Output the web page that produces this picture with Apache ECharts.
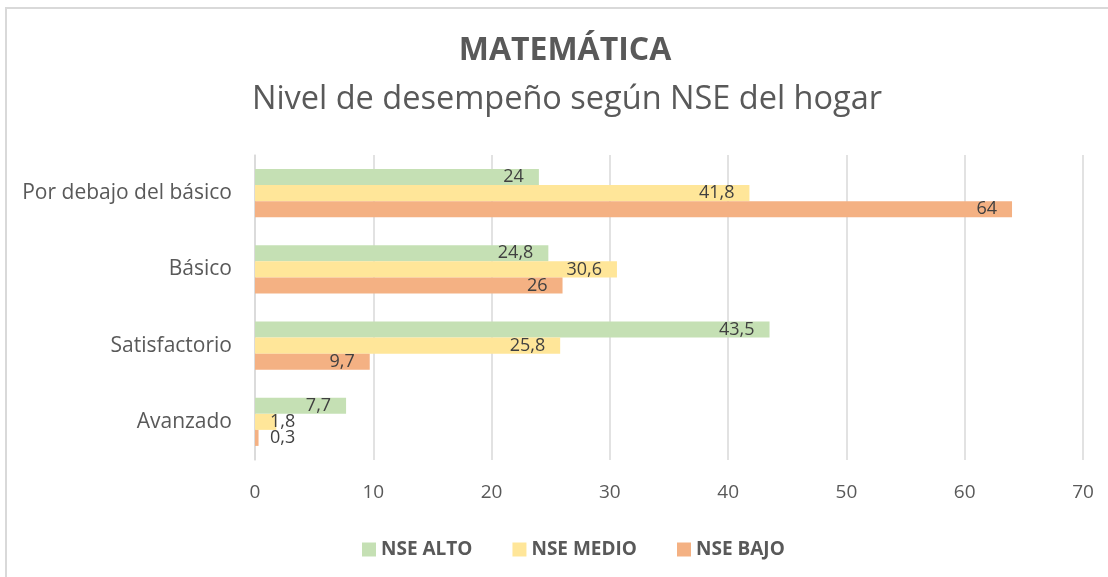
<!DOCTYPE html>
<html>
<head>
<meta charset="utf-8">
<script src="https://cdn.jsdelivr.net/npm/echarts@6/dist/echarts.min.js"></script>
<style>
  html, body { margin: 0; padding: 0; background: #fff; }
  #chart { width: 1108px; height: 577px; }
</style>
</head>
<body>
<div id="chart"></div>
<script>
  // niveles de arriba hacia abajo
  const categories = ['Por debajo del básico', 'Básico', 'Satisfactorio', 'Avanzado'];
  const seriesNames = ['NSE ALTO', 'NSE MEDIO', 'NSE BAJO'];
  const nseAlto = [24, 24.8, 43.5, 7.7];
  const nseMedio = [41.8, 30.6, 25.8, 1.8];
  const nseBajo = [64, 26, 9.7, 0.3];
  const xTicks = [0, 10, 20, 30, 40, 50, 60, 70];

  const colors = ['#c5e0b4', '#ffe699', '#f4b183'];
  const FONT = '"Open Sans", sans-serif';

  const fmt = v => String(v).replace('.', ',');

  function makeSeries(name, values, color) {
    return {
      name: name,
      type: 'bar',
      barGap: '0%',
      barCategoryGap: '37%',
      itemStyle: { color: color },
      label: {
        show: true,
        position: 'insideRight',
        distance: 15,
        color: '#404040',
        fontSize: 18,
        fontFamily: FONT,
        formatter: p => fmt(p.value)
      },
      data: values.map(v => v < 3
        ? { value: v, label: { position: 'insideLeft', distance: 15 } }
        : v)
    };
  }

  const myChart = echarts.init(document.getElementById('chart'));
  const option = {
    animation: false,
    textStyle: { fontFamily: FONT },
    title: [
      {
        text: 'MATEMÁTICA',
        left: 560,
        top: 30,
        textAlign: 'center',
        textStyle: { fontFamily: FONT, fontSize: 32, fontWeight: 'bold', color: '#595959' }
      },
      {
        text: 'Nivel de desempeño según NSE del hogar',
        left: 562,
        top: 78,
        textAlign: 'center',
        textStyle: { fontFamily: FONT, fontSize: 32.5, fontWeight: 'normal', color: '#595959' }
      }
    ],
    graphic: [
      {
        type: 'rect',
        shape: { x: 6, y: 8, width: 1200, height: 700 },
        style: { fill: 'none', stroke: '#d9d9d9', lineWidth: 2 },
        silent: true
      }
    ],
    legend: {
      data: seriesNames,
      left: 357,
      top: 535,
      icon: 'rect',
      itemWidth: 14,
      itemHeight: 14,
      itemGap: 40,
      textStyle: { fontFamily: FONT, fontSize: 19, fontWeight: 'bold', color: '#595959' }
    },
    grid: {
      left: 255,
      right: 25,
      top: 155,
      bottom: 117,
      containLabel: false
    },
    xAxis: {
      type: 'value',
      min: xTicks[0],
      max: xTicks[xTicks.length - 1],
      interval: 10,
      axisLine: { show: false },
      axisTick: { show: false },
      splitLine: { show: true, lineStyle: { color: '#d9d9d9', width: 1.5 } },
      axisLabel: { fontFamily: FONT, fontSize: 19, color: '#595959', margin: 23 }
    },
    yAxis: {
      type: 'category',
      inverse: true,
      data: categories,
      axisLine: { show: true, lineStyle: { color: '#d9d9d9', width: 1.5 } },
      axisTick: { show: false },
      axisLabel: { fontFamily: FONT, fontSize: 21, color: '#595959', margin: 23 }
    },
    series: [
      makeSeries(seriesNames[0], nseAlto, colors[0]),
      makeSeries(seriesNames[1], nseMedio, colors[1]),
      makeSeries(seriesNames[2], nseBajo, colors[2])
    ]
  };
  option && myChart.setOption(option);
</script>
</body>
</html>
